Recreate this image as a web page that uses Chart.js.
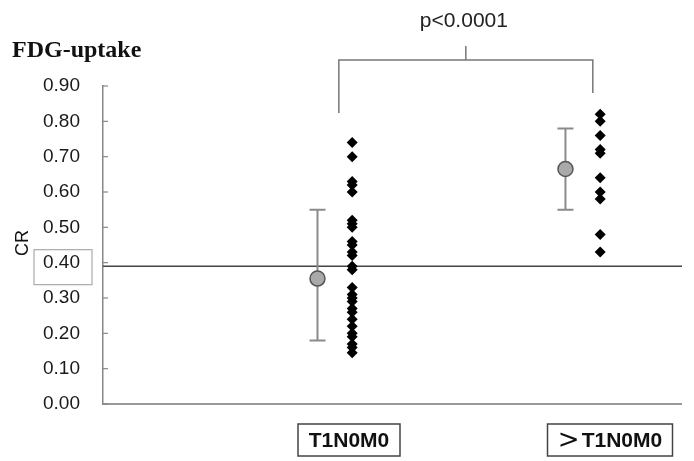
<!DOCTYPE html>
<html>
<head>
<meta charset="utf-8">
<script src="https://cdn.jsdelivr.net/npm/chart.js@4.4.0/dist/chart.umd.min.js"></script>
<style>
  html, body { margin: 0; padding: 0; background: #fff; }
  #wrap { width: 694px; height: 461px; }
</style>
</head>
<body>
<div id="wrap"><canvas id="c" width="694" height="461"></canvas></div>
<script>
// data
const groups = ['T1N0M0', '>T1N0M0'];
const groupX = [1, 2];
const dotsT1 = [0.74, 0.70, 0.63, 0.62, 0.60, 0.52, 0.51, 0.50, 0.46, 0.45, 0.43, 0.42, 0.39, 0.38,
                0.33, 0.31, 0.30, 0.29, 0.27, 0.26, 0.24, 0.22, 0.20, 0.19, 0.17, 0.16, 0.145];
const dotsGt = [0.82, 0.80, 0.76, 0.72, 0.71, 0.64, 0.60, 0.58, 0.48, 0.43];
const meanCR = [0.355, 0.665];
const sdHigh = [0.55, 0.78];
const sdLow = [0.18, 0.55];
const cutoff = 0.39;
const pText = 'p<0.0001';

var off = 0.07;
var dotPts = [];
dotsT1.forEach(function (v) { dotPts.push({ x: groupX[0] + off, y: v }); });
dotsGt.forEach(function (v) { dotPts.push({ x: groupX[1] + off, y: v }); });
var meanPts = meanCR.map(function (v, i) { return { x: groupX[i] - off, y: v }; });

var extras = {
    id: 'extras',
    beforeDatasetsDraw: function (chart) {
        var ctx = chart.ctx, a = chart.chartArea, xs = chart.scales.x, ys = chart.scales.y;
        ctx.save();
        // cut-off line
        ctx.strokeStyle = '#444'; ctx.lineWidth = 1.5;
        ctx.beginPath(); ctx.moveTo(a.left, ys.getPixelForValue(cutoff)); ctx.lineTo(a.right, ys.getPixelForValue(cutoff)); ctx.stroke();
        // error bars
        ctx.strokeStyle = '#8a8a8a'; ctx.lineWidth = 2;
        meanCR.forEach(function (m, i) {
            var x = xs.getPixelForValue(groupX[i] - off), y1 = ys.getPixelForValue(sdHigh[i]), y2 = ys.getPixelForValue(sdLow[i]);
            ctx.beginPath();
            ctx.moveTo(x, y1); ctx.lineTo(x, y2);
            ctx.moveTo(x - 8, y1); ctx.lineTo(x + 8, y1);
            ctx.moveTo(x - 8, y2); ctx.lineTo(x + 8, y2);
            ctx.stroke();
        });
        ctx.restore();
    },
    afterDraw: function (chart) {
        var ctx = chart.ctx, a = chart.chartArea, xs = chart.scales.x, ys = chart.scales.y;
        ctx.save();
        // x axis line
        ctx.strokeStyle = '#999'; ctx.lineWidth = 2;
        ctx.beginPath(); ctx.moveTo(a.left, a.bottom); ctx.lineTo(a.right, a.bottom); ctx.stroke();
        // inner tick marks
        ctx.strokeStyle = '#888'; ctx.lineWidth = 1.2;
        ys.ticks.forEach(function (t, i) {
            var y = ys.getPixelForTick(i);
            ctx.beginPath(); ctx.moveTo(a.left, y); ctx.lineTo(a.left + 5, y); ctx.stroke();
        });
        // box round 0.40 label
        var y40 = ys.getPixelForValue(0.4);
        ctx.strokeStyle = '#aaa'; ctx.lineWidth = 1.2;
        ctx.strokeRect(34, y40 - 13, 58, 35);

        // title
        ctx.fillStyle = '#111';
        ctx.font = 'bold 24px "Liberation Serif", "Times New Roman", serif';
        ctx.textAlign = 'left'; ctx.textBaseline = 'alphabetic';
        ctx.fillText('FDG-uptake', 12, 57);

        // axis title
        ctx.save();
        ctx.translate(23, 243); ctx.rotate(-Math.PI / 2);
        ctx.font = '18px "Liberation Sans", Arial, sans-serif';
        ctx.textAlign = 'center'; ctx.textBaseline = 'middle';
        ctx.fillText('CR', 0, 0);
        ctx.restore();

        // bracket
        var xl = xs.getPixelForValue(groupX[0]) + 4, xr = xs.getPixelForValue(groupX[1]) + 10;
        var yTop = 60, xm = (xl + xr) / 2;
        ctx.strokeStyle = '#777'; ctx.lineWidth = 1.5;
        ctx.beginPath();
        ctx.moveTo(xl, 113); ctx.lineTo(xl, yTop); ctx.lineTo(xr, yTop); ctx.lineTo(xr, 93);
        ctx.moveTo(xm, yTop); ctx.lineTo(xm, 46);
        ctx.stroke();
        ctx.fillStyle = '#222';
        ctx.font = '21px "Liberation Sans", Arial, sans-serif';
        ctx.textAlign = 'center'; ctx.textBaseline = 'middle';
        ctx.fillText(pText, xm - 2, 21);

        // category boxes
        var boxes = [{ cx: 349, w: 102 }, { cx: 610, w: 125 }];
        var boldF = 'bold 21px "Liberation Sans", Arial, sans-serif';
        var thinF = '26px "DejaVu Sans", sans-serif';
        groups.forEach(function (g, i) {
            var b = boxes[i];
            ctx.strokeStyle = '#444'; ctx.lineWidth = 1.5;
            ctx.strokeRect(b.cx - b.w / 2, 424, b.w, 32);
            ctx.fillStyle = '#111';
            var pre = g.charAt(0) === '>' ? '>' : '';
            var rest = g.slice(pre.length);
            ctx.font = thinF; var w1 = pre ? ctx.measureText(pre).width + 2 : 0;
            ctx.font = boldF; var w2 = ctx.measureText(rest).width;
            var x0 = b.cx - (w1 + w2) / 2;
            ctx.textAlign = 'left';
            if (pre) { ctx.font = thinF; ctx.fillText(pre, x0, 441); }
            ctx.font = boldF; ctx.fillText(rest, x0 + w1, 441);
        });
        ctx.restore();
    }
};

new Chart(document.getElementById('c'), {
    type: 'scatter',
    data: {
        datasets: [
            { label: 'dots', data: dotPts, pointStyle: 'rectRot', pointRadius: 5.5, backgroundColor: '#000', borderColor: '#000', borderWidth: 0 },
            { label: 'mean', data: meanPts, pointStyle: 'circle', pointRadius: 7.5, backgroundColor: '#a9a9a9', borderColor: '#555', borderWidth: 1.5 }
        ]
    },
    options: {
        responsive: false, animation: false,
        layout: { padding: { left: 0, right: 12, top: 86, bottom: 57 } },
        plugins: { legend: { display: false }, tooltip: { enabled: false } },
        scales: {
            x: { type: 'linear', display: false, min: 0.065, max: 2.4 },
            y: {
                min: 0, max: 0.9,
                afterFit: function (s) { s.width = 103; },
                grid: { display: false, drawTicks: false },
                border: { display: true, color: '#888', width: 1.5 },
                ticks: {
                    stepSize: 0.1, padding: 23, color: '#1a1a1a',
                    font: { family: '"Liberation Sans", Arial, sans-serif', size: 19 },
                    callback: function (v) { return Number(v).toFixed(2); }
                }
            }
        }
    },
    plugins: [extras]
});
</script>
</body>
</html>
